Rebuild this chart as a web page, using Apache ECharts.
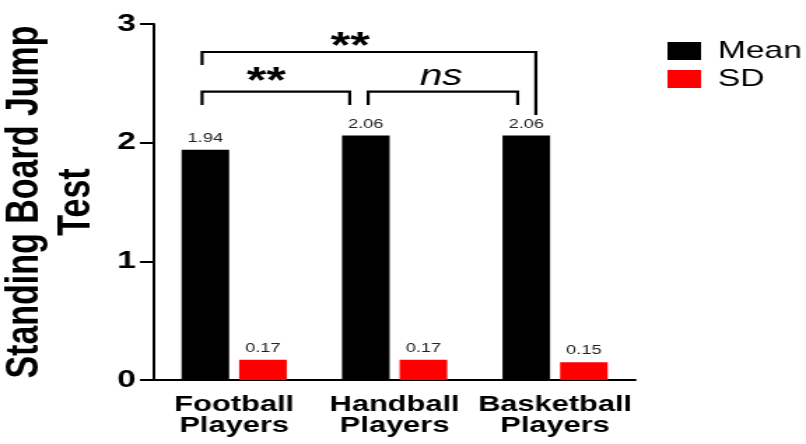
<!DOCTYPE html>
<html>
<head>
<meta charset="utf-8">
<script src="https://cdn.jsdelivr.net/npm/echarts@6/dist/echarts.min.js"></script>
<style>
html,body{margin:0;padding:0;background:#fff;overflow:hidden;}
#main{width:576px;height:444px;transform:scaleX(1.3993);transform-origin:0 0;}
</style>
</head>
<body>
<div id="main"></div>
<script>
const categories = ['Football\nPlayers', 'Handball\nPlayers', 'Basketball\nPlayers'];
const meanValues = [1.94, 2.06, 2.06];
const sdValues = [0.17, 0.17, 0.15];
const yTicks = [0, 1, 2, 3];

// significance brackets: [category, offset within band]
const bracketLeft = [[0, -0.20], [0, -0.20], [1, -0.165]];
const bracketRight = [[2, -0.12], [1, -0.28], [2, -0.233]];
const bracketTop = [2.764, 2.43, 2.43];
const bracketLegEnds = [[2.654, 2.233], [2.317, 2.317], [2.317, 2.317]];
const bracketLabels = ['**', '**', 'ns'];
const bracketLabelPos = [[1, -0.277, 2.80], [0, 0.20, 2.50], [1, 0.29, 2.557]];

const FONT = "'Liberation Sans', Arial, sans-serif";

const chart = echarts.init(document.getElementById('main'));
chart.setOption({
  animation: false,
  backgroundColor: '#fff',
  grid: { left: 110, right: 122, top: 24, bottom: 64, containLabel: false, outerBoundsMode: 'none' },
  legend: {
    orient: 'vertical', left: 472, top: 34,
    itemWidth: 24, itemHeight: 18, itemGap: 4,
    icon: 'rect',
    data: ['Mean', 'SD'],
    textStyle: { fontSize: 24, color: '#000', fontFamily: FONT, padding: [0, 0, 0, 7] }
  },
  xAxis: {
    type: 'category',
    data: categories,
    axisLine: { lineStyle: { color: '#000', width: 2 } },
    axisTick: { alignWithLabel: true, length: 10, lineStyle: { color: '#000', width: 2 } },
    axisLabel: { interval: 0, fontSize: 22, fontWeight: 'bold', color: '#000', lineHeight: 21, margin: 14, fontFamily: FONT }
  },
  yAxis: {
    type: 'value',
    min: yTicks[0], max: yTicks[yTicks.length - 1], interval: 1,
    name: 'Standing Board Jump\nTest',
    nameLocation: 'middle',
    nameGap: 31,
    nameTextStyle: { fontSize: 34, fontWeight: 'bold', color: '#000', lineHeight: 37, fontFamily: FONT },
    axisLine: { show: true, lineStyle: { color: '#000', width: 2 } },
    axisTick: { show: true, length: 10, lineStyle: { color: '#000', width: 2 } },
    axisLabel: { fontSize: 24, fontWeight: 'bold', color: '#000', margin: 13, fontFamily: FONT },
    splitLine: { show: false }
  },
  series: [
    {
      name: 'Mean', type: 'bar', data: meanValues,
      barWidth: 34, barGap: '21%',
      itemStyle: { color: '#000' },
      label: { show: true, position: 'top', distance: 5, fontSize: 13, color: '#222', fontFamily: FONT,
        formatter: p => p.value.toFixed(2) }
    },
    {
      name: 'SD', type: 'bar', data: sdValues,
      barWidth: 34,
      itemStyle: { color: '#ff0000' },
      label: { show: true, position: 'top', distance: 5, fontSize: 13, color: '#222', fontFamily: FONT,
        formatter: p => p.value.toFixed(2) }
    },
    {
      type: 'custom',
      silent: true,
      clip: false,
      data: bracketLabels.map(() => [0, 0]),
      renderItem: function (params, api) {
        const i = params.dataIndex;
        const band = api.size([1, 0])[0];
        const L = bracketLeft[i], R = bracketRight[i];
        const x1 = api.coord([L[0], 0])[0] + L[1] * band;
        const x2 = api.coord([R[0], 0])[0] + R[1] * band;
        const yT = api.coord([0, bracketTop[i]])[1];
        const yL = api.coord([0, bracketLegEnds[i][0]])[1];
        const yR = api.coord([0, bracketLegEnds[i][1]])[1];
        const P = bracketLabelPos[i];
        const tx = api.coord([P[0], 0])[0] + P[1] * band;
        const ty = api.coord([0, P[2]])[1];
        const isNs = bracketLabels[i] === 'ns';
        return {
          type: 'group',
          children: [
            { type: 'polyline', shape: { points: [[x1, yL], [x1, yT], [x2, yT], [x2, yR]] },
              style: { stroke: '#000', lineWidth: 2.2, fill: null } },
            { type: 'text',
              style: { text: bracketLabels[i], x: tx, y: ty, align: 'center', verticalAlign: 'middle',
                fill: '#000', fontFamily: FONT,
                fontSize: isNs ? 29 : 36, fontWeight: isNs ? 'normal' : 'bold', fontStyle: isNs ? 'italic' : 'normal' } }
          ]
        };
      }
    }
  ]
});
</script>
</body>
</html>
